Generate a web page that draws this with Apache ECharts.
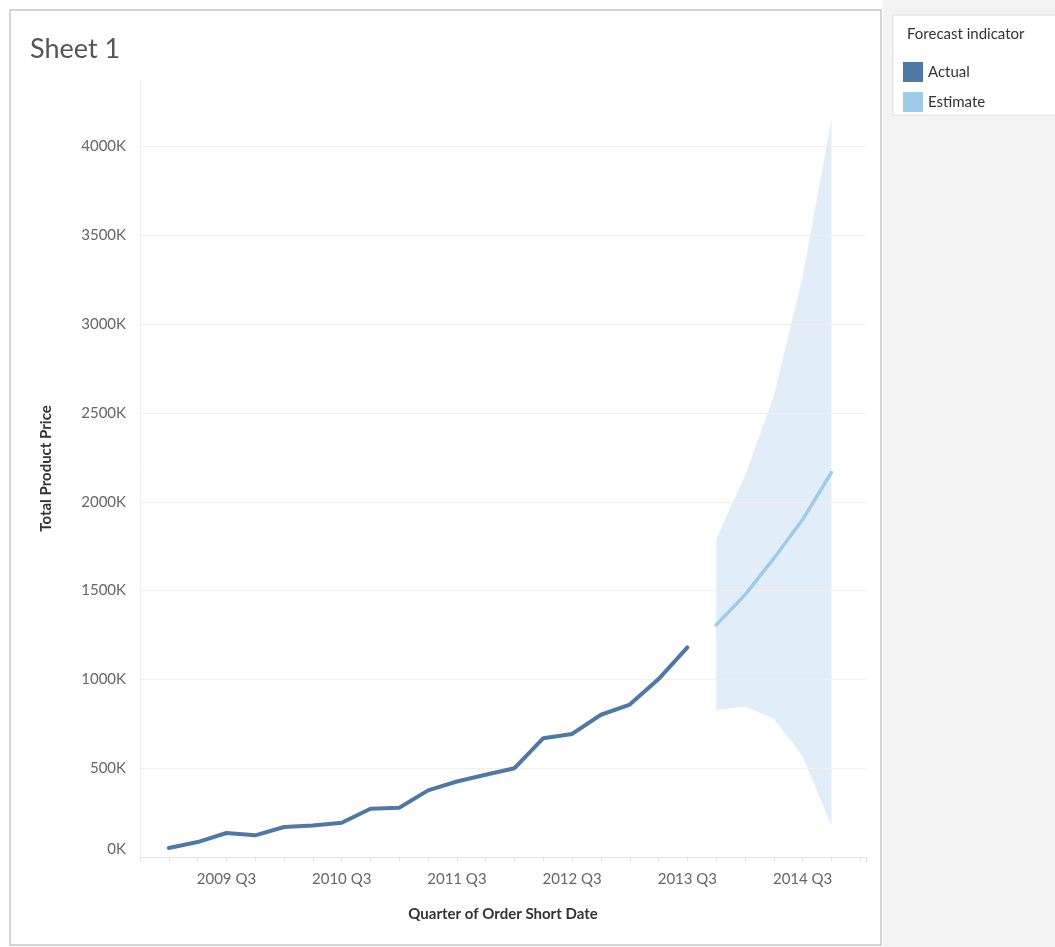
<!DOCTYPE html>
<html><head><meta charset="utf-8">
<script src="https://cdn.jsdelivr.net/npm/echarts@6/dist/echarts.min.js"></script>
<style>html,body{margin:0;padding:0;background:#fff}#c{width:1055px;height:947px}</style>
</head><body><div id="c"></div>
<script>
const quarters = ['2009 Q1','2009 Q2','2009 Q3','2009 Q4','2010 Q1','2010 Q2','2010 Q3','2010 Q4','2011 Q1','2011 Q2','2011 Q3','2011 Q4','2012 Q1','2012 Q2','2012 Q3','2012 Q4','2013 Q1','2013 Q2','2013 Q3','2013 Q4','2014 Q1','2014 Q2','2014 Q3','2014 Q4'];
const actualValues = [51000, 84000, 135000, 122000, 169000, 178000, 193000, 272000, 277000, 375000, 425000, 463000, 500000, 669000, 693000, 801000, 858000, 1002000, 1180000];
const estimateValues = [1307000, 1476000, 1681000, 1900000, 2165000];
const upperBand = [1790000, 2146000, 2597000, 3267000, 4155000];
const lowerBand = [828000, 847000, 779000, 569000, 178000];
const yTicks = [500000, 1000000, 1500000, 2000000, 2500000, 3000000, 3500000, 4000000];

const estStart = actualValues.length;
const actualData = actualValues.map((v, i) => [i, v]);
const estData = estimateValues.map((v, i) => [estStart + i, v]);
const bandData = upperBand.map((v, i) => [estStart + i, lowerBand[i], v]);

const FONT = 'Lato, "Noto Sans", sans-serif';
const chart = echarts.init(document.getElementById('c'), null, {renderer: 'canvas'});
chart.setOption({
  animation: false,
  backgroundColor: '#ffffff',
  textStyle: {fontFamily: FONT},
  graphic: [
    {type: 'rect', z: -10, shape: {x: 883, y: 0, width: 172, height: 947}, style: {fill: '#f3f3f3'}},
    {type: 'rect', z: -9, shape: {x: 10, y: 10, width: 871, height: 935}, style: {fill: '#ffffff', stroke: '#c6c6c6', lineWidth: 1.5}},
    {type: 'rect', z: -9, shape: {x: 893, y: 15, width: 170, height: 100}, style: {fill: '#ffffff', stroke: '#dedede', lineWidth: 1}}
  ],
  title: [
    {text: 'Sheet 1', left: 25, top: 31, textStyle: {fontFamily: FONT, fontSize: 27, fontWeight: 'normal', color: '#555555'}},
    {text: 'Forecast indicator', left: 902, top: 22, textStyle: {fontFamily: FONT, fontSize: 15, fontWeight: 'normal', color: '#333333'}}
  ],
  legend: {
    data: ['Actual', 'Estimate'], orient: 'vertical', left: 898, top: 57,
    icon: 'rect', itemWidth: 20, itemHeight: 20, itemGap: 10,
    textStyle: {fontFamily: FONT, fontSize: 15, color: '#333333'}
  },
  grid: {left: 140, right: 189, top: 80, bottom: 90},
  xAxis: {
    type: 'value', min: -1, max: 24.2, interval: 1,
    name: 'Quarter of Order Short Date', nameLocation: 'middle', nameGap: 50,
    nameTextStyle: {fontFamily: FONT, fontSize: 15, fontWeight: 'bold', color: '#333333'},
    axisLine: {show: true, lineStyle: {color: '#e6e6e6'}},
    axisTick: {show: true, length: 4, lineStyle: {color: '#e0e0e0'}},
    splitLine: {show: false},
    axisLabel: {
      fontFamily: FONT, fontSize: 15, color: '#666666', margin: 15,
      formatter: v => (Number.isInteger(v) && quarters[v] && quarters[v].endsWith('Q3')) ? quarters[v] : ''
    }
  },
  yAxis: {
    type: 'value', min: 0, max: 4375000, interval: 500000,
    name: 'Total Product Price', nameLocation: 'middle', nameGap: 86, nameRotate: 90,
    nameTextStyle: {fontFamily: FONT, fontSize: 15, fontWeight: 'bold', color: '#333333'},
    axisLine: {show: true, onZero: false, lineStyle: {color: '#eeeeee'}},
    axisTick: {show: false},
    splitLine: {show: false},
    axisLabel: {
      fontFamily: FONT, fontSize: 15, color: '#666666', margin: 14, showMaxLabel: false,
      verticalAlignMinLabel: 'bottom',
      formatter: v => (v / 1000) + 'K'
    }
  },
  series: [
    {
      name: 'grid', type: 'line', data: [], silent: true,
      markLine: {silent: true, symbol: 'none', label: {show: false},
        lineStyle: {color: '#efefef', type: 'solid', width: 1},
        data: yTicks.map(v => ({yAxis: v}))}
    },
    {
      name: 'band', type: 'custom', data: bandData, silent: true, z: 1,
      encode: {x: 0, y: [1, 2]},
      renderItem: function (params, api) {
        if (params.dataIndex !== 0) return null;
        const top = [], bot = [];
        for (let i = 0; i < bandData.length; i++) {
          top.push(api.coord([bandData[i][0], bandData[i][2]]));
          bot.push(api.coord([bandData[i][0], bandData[i][1]]));
        }
        return {type: 'polygon', shape: {points: top.concat(bot.reverse())},
          style: {fill: '#e1edf7', stroke: null}};
      }
    },
    {
      name: 'Actual', type: 'line', data: actualData, symbol: 'none', z: 5,
      itemStyle: {color: '#4e79a7'}, lineStyle: {color: '#4e79a7', width: 4, cap: 'round', join: 'round'}
    },
    {
      name: 'Estimate', type: 'line', data: estData, symbol: 'none', z: 5,
      itemStyle: {color: '#a0cbe8'}, lineStyle: {color: '#a0cbe8', width: 3.5, cap: 'round', join: 'round'}
    }
  ]
});
</script></body></html>
